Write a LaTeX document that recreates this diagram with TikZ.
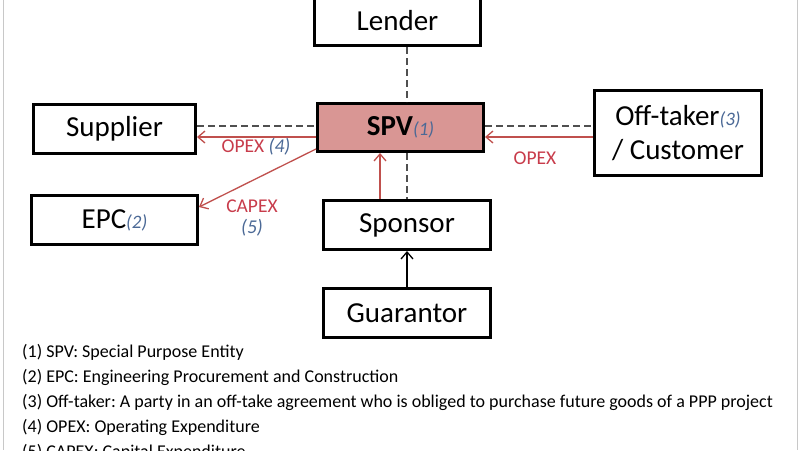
\documentclass[tikz,border=0pt]{standalone}
\usepackage{fontspec}
\setmainfont{Carlito}
\usetikzlibrary{arrows.meta}
\frenchspacing
\definecolor{spvfill}{RGB}{217,150,148}
\definecolor{arrred}{RGB}{192,80,77}
\definecolor{lblred}{RGB}{200,60,75}
\definecolor{noteblue}{RGB}{75,105,150}
\definecolor{dashgray}{RGB}{80,80,80}
\definecolor{framegray}{RGB}{200,200,200}
\begin{document}
\begin{tikzpicture}[x=1pt,y=-1pt,
  box/.style={draw=black, line width=3pt, fill=white, inner sep=0pt,
    minimum width=166pt, minimum height=49pt, align=center,
    font=\fontsize{29}{34}\selectfont},
  dashline/.style={draw=dashgray, line width=1.3pt, dash pattern=on 7pt off 4pt},
  redarrow/.style={draw=arrred, line width=1.3pt, -{Straight Barb[length=7pt,width=12pt]}},
  blackarrow/.style={draw=black, line width=1.3pt, -{Straight Barb[length=7pt,width=12pt]}},
  lbl/.style={text=lblred, inner sep=0pt, font=\fontsize{19.5}{22}\selectfont},
  legend/.style={anchor=west, inner sep=0pt, font=\fontsize{18}{21}\selectfont}
]
\newcommand{\refnum}[1]{{\color{noteblue}\itshape\fontsize{19}{22}\selectfont #1}}
\useasboundingbox (0,0) rectangle (800,450);
\clip (0,0) rectangle (800,450);
\fill[white] (0,0) rectangle (800,450);
\draw[framegray, line width=1pt] (3,0) -- (3,450) (797,0) -- (797,450);

\node[box] (lender) at (397.5,21) {Lender};
\node[box, fill=spvfill, minimum height=48pt] (spv) at (400.5,127.5) {\textbf{SPV}\refnum{(1)}};
\node[box, minimum width=162pt] (supplier) at (114.5,129) {Supplier};
\node[box, minimum width=167pt, minimum height=85pt] (offtaker) at (678,133) {Off-taker\refnum{(3)}\\/ Customer};
\node[box] (epc) at (114.5,220) {EPC\refnum{(2)}};
\node[box, minimum width=167pt] (sponsor) at (407,225) {Sponsor};
\node[box, minimum width=167pt] (guarantor) at (407,313) {Guarantor};

\coordinate (hy) at (0,126);
\coordinate (ry) at (0,137);
\coordinate (rx) at (380,0);

% dashed links
\draw[dashline] (lender.south -| sponsor.north) -- (spv.north -| sponsor.north);
\draw[dashline] (spv.south -| sponsor.north) -- (sponsor.north);
\draw[dashline] (supplier.east |- hy) -- (spv.west |- hy);
\draw[dashline] (spv.east |- hy) -- (offtaker.west |- hy);

% flows
\draw[redarrow] (spv.west |- ry) -- (supplier.east |- ry);
\draw[redarrow] (offtaker.west |- ry) -- (spv.east |- ry);
\draw[redarrow] ([yshift=4pt]spv.south west) -- ([yshift=13pt]epc.east);
\draw[redarrow] (sponsor.north -| rx) -- (spv.south -| rx);
\draw[blackarrow] (guarantor.north) -- (sponsor.south);

% labels
\node[lbl] (l1) at (256,147) {OPEX \refnum{\fontsize{19.5}{22}\selectfont(4)}};
\node[lbl] (l2) at (535,158) {OPEX};
\node[lbl] (l3) at (252,206) {CAPEX};
\node[lbl] (l4) at (252,228) {\refnum{\fontsize{19.5}{22}\selectfont(5)}};

% legend
\node[legend] (n1) at (22,352) {(1) SPV: Special Purpose Entity};
\node[legend] (n2) at (22,377) {(2) EPC: Engineering Procurement and Construction};
\node[legend] (n3) at (22,402) {(3) Off-taker: A party in an off-take agreement who is obliged to purchase future goods of a PPP project};
\node[legend] (n4) at (22,427) {(4) OPEX: Operating Expenditure};
\node[legend] (n5) at (22,452) {(5) CAPEX: Capital Expenditure};
\end{tikzpicture}
\end{document}
